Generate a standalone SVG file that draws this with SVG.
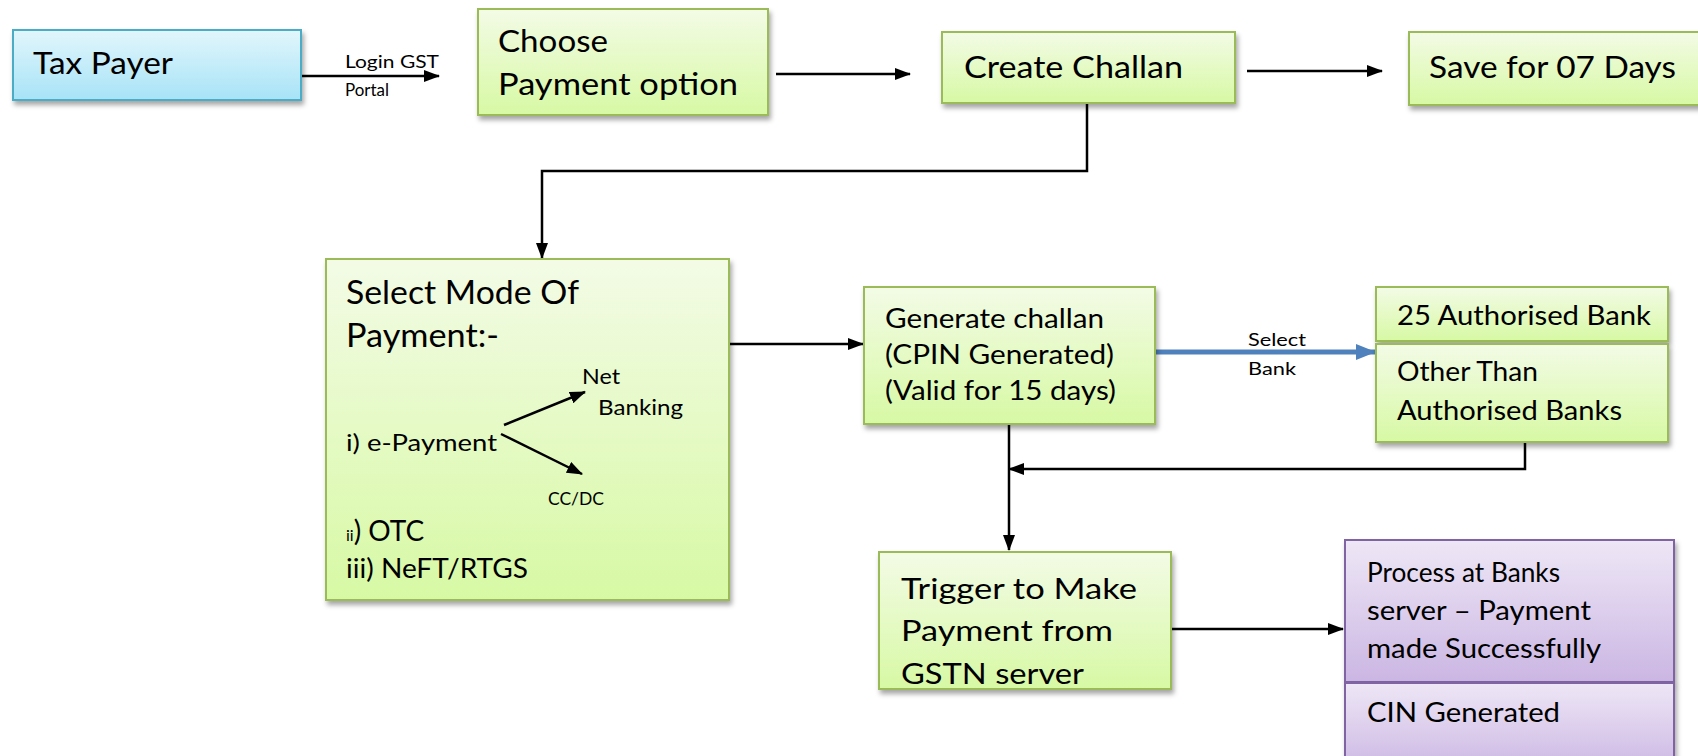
<svg xmlns="http://www.w3.org/2000/svg" width="1698" height="756" viewBox="0 0 1698 756">
<style>
text{font-family:Lato,"Open Sans","Liberation Sans",sans-serif;fill:#000}
.g{fill:url(#gg);stroke:#9bbb59;stroke-width:2;filter:url(#sh)}
.b{fill:url(#bg);stroke:#4bacc6;stroke-width:2;filter:url(#sh)}
.p{fill:url(#pg);stroke:#8064a2;stroke-width:2;filter:url(#sh)}
.c{fill:none;stroke:#000;stroke-width:2.5;marker-end:url(#ah)}
.cn{fill:none;stroke:#000;stroke-width:2}
</style>
<defs>
<linearGradient id="gg" x1="0" y1="0" x2="0" y2="1"><stop offset="0" stop-color="#f3fbe6"/><stop offset="1" stop-color="#d7f9a4"/></linearGradient>
<linearGradient id="bg" x1="0" y1="0" x2="0" y2="1"><stop offset="0" stop-color="#e2f6fc"/><stop offset="1" stop-color="#a7e3f7"/></linearGradient>
<linearGradient id="pg" x1="0" y1="0" x2="0" y2="1"><stop offset="0" stop-color="#eee7f6"/><stop offset="1" stop-color="#cbb6e3"/></linearGradient>
<filter id="sh" x="-10%" y="-10%" width="130%" height="140%"><feDropShadow dx="2" dy="4" stdDeviation="2.5" flood-color="#000" flood-opacity="0.35"/></filter>
<marker id="ah" markerWidth="16" markerHeight="12" refX="15" refY="6" orient="auto" markerUnits="userSpaceOnUse"><path d="M0,0 L16,6 L0,12 Z" fill="#000"/></marker>
<marker id="ahb" markerWidth="20" markerHeight="16" refX="19" refY="8" orient="auto" markerUnits="userSpaceOnUse"><path d="M0,0 L20,8 L0,16 Z" fill="#4f81bd"/></marker>
</defs>

<g id="connectors">
<path class="c" d="M301,76 H439"/>
<path class="c" d="M776,74 H910"/>
<path class="c" d="M1247,71 H1382"/>
<path class="c" d="M1087,103 V171 H542 V258"/>
<path class="c" d="M729,344 H863"/>
<path d="M1154,352 H1375" fill="none" stroke="#4f81bd" stroke-width="5" marker-end="url(#ahb)"/>
<path class="c" d="M1009,424 V550"/>
<path class="c" d="M1525,442 V469 H1009"/>
<path class="c" d="M1171,629 H1343"/>
<text x="345" y="68" font-size="16.5" textLength="94" lengthAdjust="spacingAndGlyphs">Login GST</text>
<text x="345" y="96" font-size="16.5" textLength="44" lengthAdjust="spacingAndGlyphs">Portal</text>
<text x="1248" y="346" font-size="17" textLength="58" lengthAdjust="spacingAndGlyphs">Select</text>
<text x="1248" y="375" font-size="17" textLength="48" lengthAdjust="spacingAndGlyphs">Bank</text>
</g>

<g id="tax-payer">
<rect class="b" x="13" y="30" width="288" height="70"/>
<text x="33" y="74" font-size="30" textLength="140" lengthAdjust="spacingAndGlyphs">Tax Payer</text>
</g>

<g id="choose-payment">
<rect class="g" x="478" y="9" width="290" height="106"/>
<text x="498" y="52" font-size="30" textLength="110" lengthAdjust="spacingAndGlyphs">Choose</text>
<text x="498" y="95" font-size="30" textLength="240" lengthAdjust="spacingAndGlyphs">Payment option</text>
</g>

<g id="create-challan">
<rect class="g" x="942" y="32" width="293" height="71"/>
<text x="964" y="78" font-size="30" textLength="219" lengthAdjust="spacingAndGlyphs">Create Challan</text>
</g>

<g id="save-days">
<rect class="g" x="1409" y="32" width="300" height="73"/>
<text x="1429" y="78" font-size="30" textLength="247" lengthAdjust="spacingAndGlyphs">Save for 07 Days</text>
</g>

<g id="select-mode">
<rect class="g" x="326" y="259" width="403" height="341"/>
<text x="346" y="304" font-size="32" textLength="233" lengthAdjust="spacingAndGlyphs">Select Mode Of</text>
<text x="346" y="347" font-size="32" textLength="153" lengthAdjust="spacingAndGlyphs">Payment:-</text>
<text x="582" y="384" font-size="21" textLength="38" lengthAdjust="spacingAndGlyphs">Net</text>
<text x="598" y="415" font-size="21" textLength="85" lengthAdjust="spacingAndGlyphs">Banking</text>
<text x="346" y="451" font-size="23" textLength="151" lengthAdjust="spacingAndGlyphs">i) e-Payment</text>
<path class="c" d="M504,425 L585,392"/>
<path class="c" d="M501,434 L582,474"/>
<text x="548" y="505" font-size="17" textLength="56" lengthAdjust="spacingAndGlyphs">CC/DC</text>
<text x="346" y="541"><tspan font-size="16">ii</tspan><tspan font-size="28">) OTC</tspan></text>
<text x="346" y="578" font-size="27" textLength="182" lengthAdjust="spacingAndGlyphs">iii) NeFT/RTGS</text>
</g>

<g id="generate-challan">
<rect class="g" x="864" y="287" width="291" height="137"/>
<text x="885" y="328" font-size="26" textLength="219" lengthAdjust="spacingAndGlyphs">Generate challan</text>
<text x="885" y="364" font-size="26" textLength="229" lengthAdjust="spacingAndGlyphs">(CPIN Generated)</text>
<text x="885" y="400" font-size="26" textLength="231" lengthAdjust="spacingAndGlyphs">(Valid for 15 days)</text>
</g>

<g id="authorised-bank">
<rect class="g" x="1376" y="287" width="292" height="54"/>
<text x="1397" y="325" font-size="27" textLength="254" lengthAdjust="spacingAndGlyphs">25 Authorised Bank</text>
</g>

<g id="other-banks">
<rect class="g" x="1376" y="344" width="292" height="98"/>
<text x="1397" y="381" font-size="27" textLength="141" lengthAdjust="spacingAndGlyphs">Other Than</text>
<text x="1397" y="420" font-size="27" textLength="225" lengthAdjust="spacingAndGlyphs">Authorised Banks</text>
</g>

<g id="trigger-payment">
<rect class="g" x="879" y="552" width="292" height="137"/>
<text x="901" y="599" font-size="29" textLength="236" lengthAdjust="spacingAndGlyphs">Trigger to Make</text>
<text x="901" y="641" font-size="29" textLength="212" lengthAdjust="spacingAndGlyphs">Payment from</text>
<text x="901" y="684" font-size="29" textLength="183" lengthAdjust="spacingAndGlyphs">GSTN server</text>
</g>

<g id="process-bank">
<rect class="p" x="1345" y="540" width="329" height="142"/>
<text x="1367" y="582" font-size="26" textLength="193" lengthAdjust="spacingAndGlyphs">Process at Banks</text>
<text x="1367" y="620" font-size="26" textLength="224" lengthAdjust="spacingAndGlyphs">server – Payment</text>
<text x="1367" y="658" font-size="26" textLength="234" lengthAdjust="spacingAndGlyphs">made Successfully</text>
</g>

<g id="cin-generated">
<rect class="p" x="1345" y="683" width="329" height="90"/>
<text x="1367" y="722" font-size="26" textLength="193" lengthAdjust="spacingAndGlyphs">CIN Generated</text>
</g>
</svg>
